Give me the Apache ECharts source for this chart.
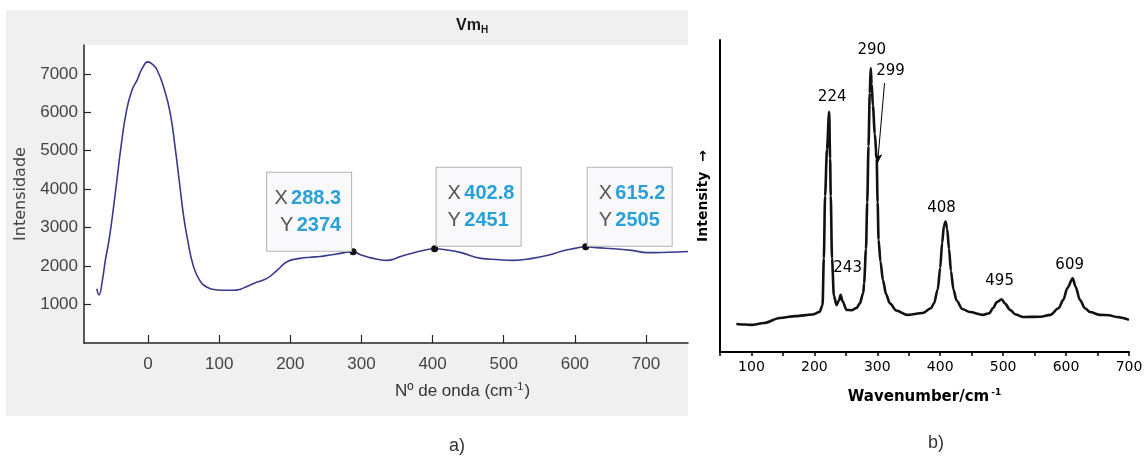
<!DOCTYPE html>
<html><head><meta charset="utf-8">
<script src="https://cdn.jsdelivr.net/npm/echarts@6/dist/echarts.min.js"></script>
<style>html,body{margin:0;padding:0;background:#fff}#c{width:1146px;height:466px}</style>
</head><body><div id="c"></div>
<script>
// ---- Panel a) : measured spectrum (Vm_H)
const waveA = [-72,-69,-64,-60,-56,-53,-48,-44,-38,-30,-22,-15,-8,0,6,12.7,22,31,38,44,50,56,63,72,83,97,110,120,130,139,150,167,182,196,214,228,242,256,270,280,288.3,298,310,322,336,345,355,370,385,402.8,420,440,468,490,514,540,562,580,600,615.2,630,655,680,702,730,759];
const intA  = [1410,1250,1650,2150,2550,2900,3600,4200,5100,6070,6600,6850,7150,7310,7250,7100,6650,6000,5100,4200,3300,2650,2050,1650,1450,1380,1370,1370,1400,1470,1560,1680,1900,2120,2200,2230,2250,2290,2330,2360,2374,2300,2230,2180,2150,2180,2250,2330,2400,2451,2420,2350,2200,2170,2150,2200,2280,2380,2460,2505,2480,2450,2410,2350,2360,2380];
const tipX = [288.3, 402.8, 615.2];
const tipY = [2374, 2451, 2505];
const xTicksA = [0,100,200,300,400,500,600,700];
const yTicksA = [1000,2000,3000,4000,5000,6000,7000];

// ---- Panel b) : reference Raman spectrum
const waveB = [76,90,100,120,145,170,197,208,213,215,217,220,223.5,225,226,228,231,235.3,239,241.7,245,251,259,267,272,277.7,279,282,284,286,288,289.5,291,293,296,299,300.5,302,305,309,314,320,330,347,372,385,390,396,400,403,406,408.5,411,414,417,421,426,435,447,468,478,484,490,497.6,503,511,520,532,560,575,588,595.6,602,610.5,615,622,630,638,654,668,681,700];
const intB  = [9.0,8.8,8.7,9.3,10.9,11.5,12.0,12.8,15,30,50,65,77,62,50,30,18,15.1,16.5,18.3,16.2,13.5,13.4,14.1,15.5,18.9,22,33,48,66,83,91,86,79,70,62,48,36,29,23,18.5,15.6,13.3,11.9,12.5,14,15.5,20,27,35,40.5,41.8,39.5,33,26,20,16.5,13.8,12.8,11.9,12.4,14.1,16,16.9,15.5,13.5,12,11.2,11.3,11.9,14,16.7,20.5,23.6,21,16.7,14,12.8,11.9,11.8,11.2,10.3];
const xTicksB = [100,200,300,400,500,600,700];
const peakNames = ['224','243','290','408','495','609'];
const peakX = [223.5, 241.7, 289.5, 408.5, 497.6, 610.5];
const peakY = [77, 18.3, 91, 41.8, 16.9, 23.6];
const shoulderName = '299';
const shoulderX = 300.5;
const shoulderY = 60.6;

const peakOffsets = [[3,-15],[7,-27],[1,-18],[-4,-13],[-2,-18],[-3,-13]];
const tipLabelPos = [
  {position:[1.5,2.5], align:'right'},
  {position:[5.5,0.5], align:'left'},
  {position:[5.5,2.5], align:'left'}
];

const NARROW = "'Liberation Sans Narrow','Arial Narrow','Liberation Sans',Arial,sans-serif";
const SANS = "'Liberation Sans',Arial,sans-serif";
const COMIC = "'DejaVu Sans',sans-serif";

const chart = echarts.init(document.getElementById('c'), null, {renderer:'canvas'});

const option = {
  animation: false,
  backgroundColor: '#ffffff',
  title: {
    text: '{a|Vm}{b|H}',
    left: 451, top: 12,
    textStyle: {
      rich: {
        a: {fontSize: 16, fontFamily: SANS, color: '#1a1a1a', fontWeight: 'bold'},
        b: {fontSize: 10, fontFamily: SANS, color: '#1a1a1a', fontWeight: 'bold', padding:[8,0,0,0]}
      }
    }
  },
  graphic: {
    elements: [
      {type:'rect', z:-100, shape:{x:6, y:10, width:682, height:406}, style:{fill:'#f0f0f0'}},
      {type:'text', left: 395, top: 381, style:{
        text:'Nº de onda (cm{s|-1})', fill:'#333', font: "17px " + SANS,
        rich:{s:{fontSize:11, fontFamily:SANS, fill:'#333', padding:[0,1,9,1]}}
      }},
      {type:'text', left: 449, top: 437, style:{text:'a)', fill:'#333', font:"18px " + SANS}},
      {type:'text', left: 928, top: 434, style:{text:'b)', fill:'#333', font:"18px " + SANS}}
    ]
  },
  grid: [
    {left: 84, top: 45, width: 604, height: 298, show: true, backgroundColor: '#ffffff', borderWidth: 0, containLabel: false},
    {left: 720, top: 40, width: 409, height: 312, show: false, containLabel: false}
  ],
  xAxis: [
    {
      type: 'value', gridIndex: 0, min: -90, max: 759,
      axisLine: {show: true, onZero: false, lineStyle: {color: '#262626', width: 1.5}},
      axisTick: {show: true, inside: true, length: 8, customValues: xTicksA, lineStyle: {color: '#262626', width: 1.2}},
      axisLabel: {customValues: xTicksA, margin: 13, fontSize: 17, fontFamily: NARROW, color: '#444', formatter: v => String(v)},
      splitLine: {show: false}
    },
    {
      type: 'value', gridIndex: 1, min: 50, max: 700, interval: 50,
      name: 'Wavenumber/cm{s|-1}', nameLocation: 'middle', nameGap: 36,
      nameTextStyle: {fontSize: 15, fontFamily: COMIC, color: '#000', fontWeight: 'bold',
        rich: {s: {fontSize: 9, fontFamily: COMIC, color:'#000', padding:[0,0,10,2]}}},
      axisLine: {show: true, onZero: false, lineStyle: {color: '#000', width: 2}},
      axisTick: {show: true, inside: false, length: 4, lineStyle: {color: '#000', width: 1.5}},
      axisLabel: {customValues: xTicksB, margin: 8, fontSize: 14, fontFamily: COMIC, color: '#000', formatter: v => String(v)},
      splitLine: {show: false}
    }
  ],
  yAxis: [
    {
      type: 'value', gridIndex: 0, min: 0, max: 7750,
      name: 'Intensidade', nameLocation: 'middle', nameGap: 48,
      nameTextStyle: {fontSize: 16, fontFamily: "'DejaVu Sans',sans-serif", color: '#444'},
      axisLine: {show: true, onZero: false, lineStyle: {color: '#262626', width: 1.5}},
      axisTick: {show: true, inside: true, length: 7, customValues: yTicksA, lineStyle: {color: '#262626', width: 1.2}},
      axisLabel: {customValues: yTicksA, margin: 6, fontSize: 17, fontFamily: NARROW, color: '#444', formatter: v => String(v)},
      splitLine: {show: false}
    },
    {
      type: 'value', gridIndex: 1, min: 0, max: 100,
      name: 'Intensity  \u2192', nameLocation: 'middle', nameGap: 10,
      nameTextStyle: {fontSize: 14, fontFamily: COMIC, color: '#000', fontWeight: 'bold'},
      axisLine: {show: true, onZero: false, lineStyle: {color: '#000', width: 2}},
      axisTick: {show: false}, axisLabel: {show: false}, splitLine: {show: false}
    }
  ],
  series: [
    {
      type: 'line', xAxisIndex: 0, yAxisIndex: 0,
      data: waveA.map((x, i) => [x, intA[i]]),
      showSymbol: false, smooth: 0.5,
      lineStyle: {color: '#3a3a8c', width: 1.6},
      markPoint: {
        symbol: 'circle', symbolSize: 7, silent: true,
        itemStyle: {color: '#111'},
        data: tipX.map((x, i) => ({
          coord: [x, tipY[i]],
          label: {
            show: true,
            position: tipLabelPos[i].position,
            align: tipLabelPos[i].align,
            verticalAlign: 'bottom',
            formatter: '{k|X} {v|' + x + '}\n{k|Y} {v|' + tipY[i] + '}',
            backgroundColor: '#f9f9fb', borderColor: '#b3b3b3', borderWidth: 1,
            padding: [12, 10, 12, 11], width: 63, lineHeight: 27,
            rich: {
              k: {fontSize: 20, fontFamily: NARROW, color: '#555', lineHeight: 27},
              v: {fontSize: 20, fontFamily: NARROW, color: '#2a9fd8', fontWeight: 'bold', lineHeight: 27}
            }
          }
        }))
      }
    },
    {
      type: 'line', xAxisIndex: 1, yAxisIndex: 1,
      data: waveB.map((x, i) => [x, intB[i]]),
      showSymbol: false, smooth: 0.3, smoothMonotone: 'x',
      lineStyle: {color: '#111', width: 2.6},
      markPoint: {
        symbol: 'circle', symbolSize: 1, silent: true,
        itemStyle: {color: 'rgba(0,0,0,0)'},
        data: peakNames.map((n, i) => ({
          coord: [peakX[i], peakY[i]],
          label: {show: true, formatter: n, position: 'inside', offset: peakOffsets[i],
            fontSize: 15, fontFamily: COMIC, color: '#000'}
        })).concat([{
          coord: [shoulderX + 11, shoulderY + 25.6],
          label: {show: true, formatter: shoulderName, position: 'inside', offset: [6, -12],
            fontSize: 15, fontFamily: COMIC, color: '#000'}
        }])
      },
      markLine: {
        silent: true, symbol: ['none', 'arrow'], symbolSize: [6, 9],
        lineStyle: {color: '#000', width: 1, type: 'solid'},
        label: {show: false},
        data: [[{coord: [shoulderX + 11, shoulderY + 25.6]}, {coord: [shoulderX, shoulderY]}]]
      }
    }
  ]
};
chart.setOption(option);
</script></body></html>
